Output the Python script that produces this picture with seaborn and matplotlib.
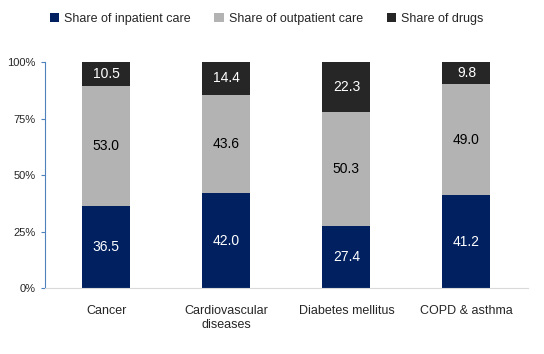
import matplotlib
matplotlib.use('Agg')

import matplotlib.pyplot as plt
import numpy as np
import pandas as pd
import seaborn as sns
from matplotlib.patches import Patch
from matplotlib.ticker import FuncFormatter

diseases = ['Cancer', 'Cardiovascular\ndiseases', 'Diabetes mellitus', 'COPD & asthma']
inpatient = [36.5, 42.0, 27.4, 41.2]
outpatient = [53.0, 43.6, 50.3, 49.0]
drugs = [10.5, 14.4, 22.3, 9.8]

series = ['Share of inpatient care', 'Share of outpatient care', 'Share of drugs']
colors = ['#002060', '#B3B3B3', '#262626']
text_colors = ['white', 'black', 'white']


def main():
    sns.set_theme(style='white')
    plt.rcParams['font.family'] = ['Liberation Sans', 'DejaVu Sans']

    df = pd.DataFrame({'disease': diseases, 'inpatient': inpatient,
                       'outpatient': outpatient, 'drugs': drugs})
    df['cum1'] = df.inpatient
    df['cum2'] = df.inpatient + df.outpatient
    df['cum3'] = df.cum2 + df.drugs

    fig = plt.figure(figsize=(5.44, 3.54), dpi=100)
    ax = fig.add_axes([0.083, 0.186, 0.887, 0.639])

    # draw from the top of the stack down so each layer covers the one above
    for col, color in zip(['cum3', 'cum2', 'cum1'], colors[::-1]):
        sns.barplot(data=df, x='disease', y=col, color=color, width=0.4,
                    saturation=1, ax=ax, edgecolor='none')

    vals = [inpatient, outpatient, drugs]
    bottoms = [np.zeros(4), df.cum1.values, df.cum2.values]
    for v, b, tc in zip(vals, bottoms, text_colors):
        for i in range(4):
            ax.text(i, b[i] + v[i] / 2, '{:.1f}'.format(v[i]), ha='center',
                    va='center', color=tc, fontsize=10)

    ax.set_xlim(-0.51, 3.51)
    ax.set_ylim(0, 100)
    ax.set_yticks([0, 25, 50, 75, 100])
    ax.yaxis.set_major_formatter(FuncFormatter(lambda y, p: '{:d}%'.format(int(y))))
    ax.set_xlabel('')
    ax.set_ylabel('')

    for s in ['top', 'right']:
        ax.spines[s].set_visible(False)
    ax.spines['left'].set_color('#4F81BD')
    ax.spines['left'].set_linewidth(0.8)
    ax.spines['bottom'].set_color('#D9D9D9')
    ax.spines['bottom'].set_linewidth(0.8)

    ax.tick_params(axis='y', left=True, length=3, width=0.8, color='#4F81BD',
                   labelsize=8, pad=4)
    ax.tick_params(axis='x', bottom=False, labelsize=9, pad=6)

    handles = [Patch(facecolor=c, edgecolor='none') for c in colors]
    fig.legend(handles, series, loc='upper center', bbox_to_anchor=(0.49, 0.995),
               ncol=3, frameon=False, fontsize=9, handlelength=0.75,
               handleheight=0.75, handletextpad=0.4, columnspacing=1.9)

    fig.savefig('out.png', dpi=100)


if __name__ == '__main__':
    main()
